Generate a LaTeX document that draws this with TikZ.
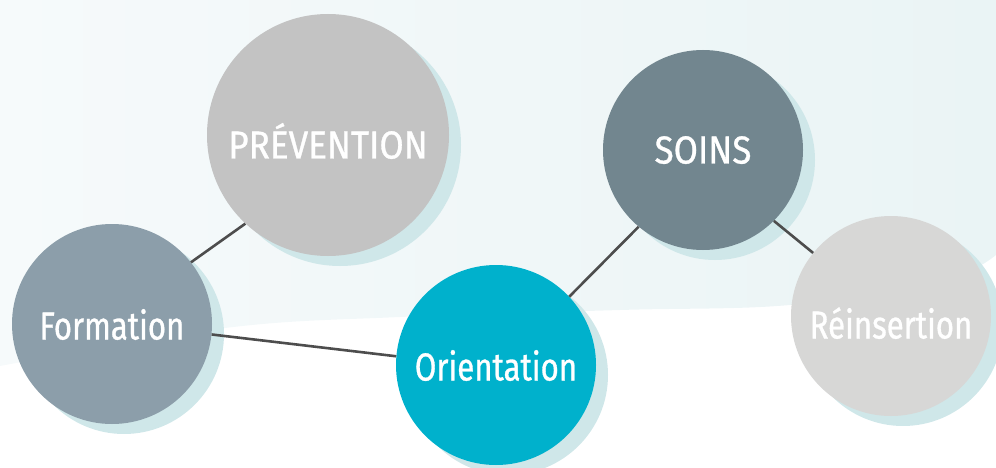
\documentclass[tikz,border=0pt]{standalone}
\usepackage{fontspec}
\setmainfont[FakeStretch=0.8, FakeBold=0.8]{Fira Sans}
\usetikzlibrary{shadows}

\definecolor{fundoA}{HTML}{F6FAFB}
\definecolor{fundoB}{HTML}{EAF4F5}
\definecolor{sombra}{HTML}{CFE7E9}
\definecolor{linha}{HTML}{4D4D4D}
\definecolor{cinzaclaro}{HTML}{C3C3C3}
\definecolor{ardosia}{HTML}{72868F}
\definecolor{cinzaazul}{HTML}{8C9EAA}
\definecolor{turquesa}{HTML}{00B1CC}
\definecolor{cinzapalido}{HTML}{D7D7D6}

\newcommand{\maiusc}[1]{{\addfontfeature{FakeStretch=0.9}#1}}

\begin{document}
\begin{tikzpicture}[
        x=1pt, y=-1pt,
        every node/.style={circle, inner sep=0pt, minimum size=200pt, text=white, text height=31pt, text depth=0pt, font=\fontsize{39}{44}\selectfont},
        bolha/.style={fill=#1, drop shadow={shadow xshift=12pt, shadow yshift=-10pt, opacity=1, fill=sombra}},
        ligacao/.style={draw=linha, line width=2.6pt}
        ]
        \useasboundingbox (0,0) rectangle (996,468);
        \shade[left color=fundoA, right color=fundoB] (0,0) -- (996,0) -- plot[smooth, tension=0.6] coordinates {(996,255) (940,282) (790,305) (620,310) (400,317) (225,328) (0,366)} -- cycle; % fundo claro acima da curva

        \node [bolha=cinzaclaro, minimum size=242pt, text height=47pt] (prevencao) at (328,135) {\maiusc{PRÉVENTION}};
        \node [bolha=ardosia, text height=27pt] (soins) at (703,150) {\maiusc{SOINS}};
        \node [bolha=cinzaazul] (formation) at (112,324) {Formation};
        \node [bolha=turquesa] (orientation) at (496,365) {Orientation};
        \node [bolha=cinzapalido, text height=45pt] (reinsertion) at (891,316) {Réinsertion};

        \draw[ligacao] (formation.38) -- (prevencao.227);
        \draw[ligacao] (formation.354) -- (orientation.175);
        \draw[ligacao] (orientation.43) -- (soins.230);
        \draw[ligacao] (soins.315) -- (reinsertion.141);
\end{tikzpicture}
\end{document}
